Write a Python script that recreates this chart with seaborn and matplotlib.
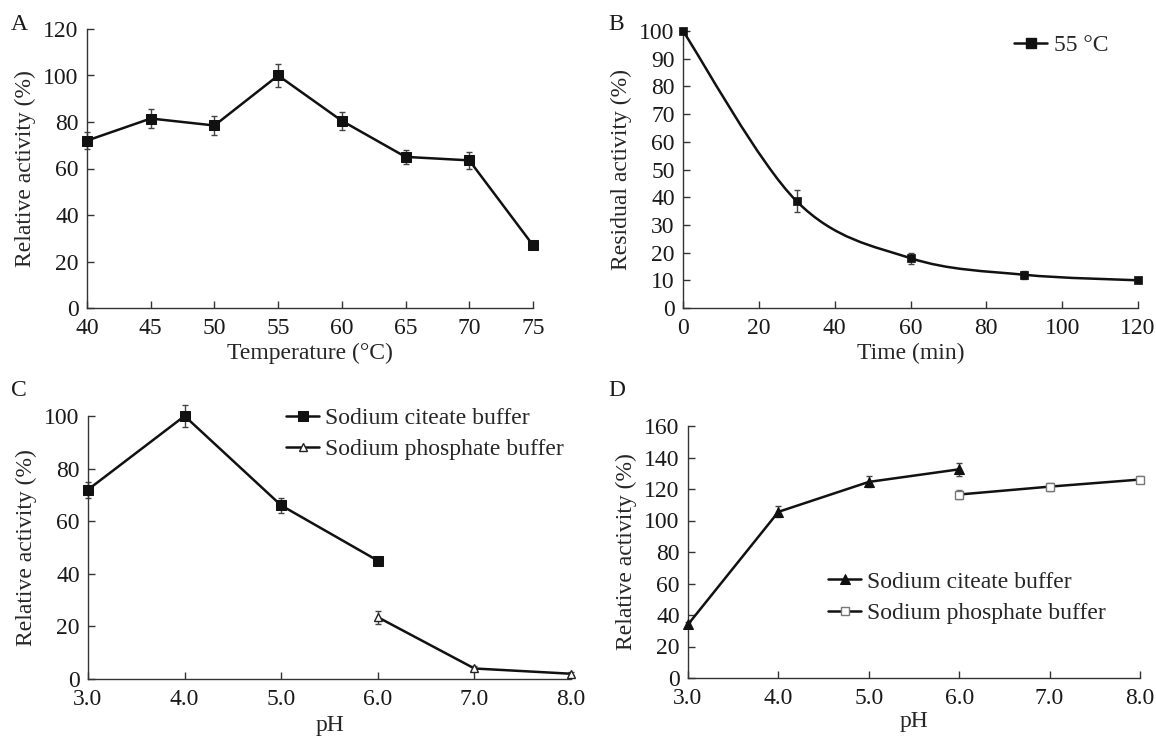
import numpy as np
import pandas as pd
import matplotlib
matplotlib.use("Agg")
import matplotlib.pyplot as plt
from matplotlib.path import Path
from matplotlib.patches import PathPatch
from matplotlib.lines import Line2D
import seaborn as sns

# ---------------- data ----------------
temp_c = [40, 45, 50, 55, 60, 65, 70, 75]
temp_act = [72, 81.5, 78.5, 100, 80.5, 65, 63.5, 27]
temp_err = [3.5, 4, 4, 5, 4, 3, 3.5, 1]

time_min = [0, 30, 60, 90, 120]
resid_act = [100, 38.5, 18, 12, 10]
resid_err = [1, 4, 2, 1.5, 0.5]

phC_cit = [3.0, 4.0, 5.0, 6.0]
actC_cit = [72, 100, 66, 45]
errC_cit = [3, 4, 2.7, 1.5]
phC_pho = [6.0, 7.0, 8.0]
actC_pho = [23.5, 4, 2]
errC_pho = [2.5, 1, 0.5]

phD_cit = [3.0, 4.0, 5.0, 6.0]
actD_cit = [34, 105.5, 124.5, 132.5]
errD_cit = [1.5, 3.5, 3.5, 4]
phD_pho = [6.0, 7.0, 8.0]
actD_pho = [116.5, 121.5, 126]
errD_pho = [3, 2.5, 2]

# ---------------- style ----------------
sns.set_style("ticks")
plt.rcParams['font.family'] = ['Liberation Serif', 'DejaVu Serif']
FS = 17
AX_COL = '#333333'

fig = plt.figure(figsize=(11.56, 7.36), dpi=100)
W, H = 1156, 736


def add_ax(l, t, r, b):
    return fig.add_axes([l / W, 1 - b / H, (r - l) / W, (b - t) / H])


def style(ax):
    for s in ['top', 'right']:
        ax.spines[s].set_visible(False)
    for s in ['left', 'bottom']:
        ax.spines[s].set_color(AX_COL)
        ax.spines[s].set_linewidth(1.0)
    ax.tick_params(direction='in', length=5, width=1.0, color=AX_COL,
                   labelsize=FS, labelcolor='#1a1a1a')
    ax.tick_params(axis='x', pad=7)
    ax.tick_params(axis='y', pad=6)


def errs(ax, x, y, e, col='#444444'):
    ax.errorbar(x, y, yerr=e, fmt='none', ecolor=col, elinewidth=1.0,
                capsize=2.5, capthick=1.0, zorder=2, clip_on=False)


LW = 1.8

# ---------- Panel A ----------
axA = add_ax(87, 29, 533, 308)
dfA = pd.DataFrame({'t': temp_c, 'a': temp_act})
errs(axA, temp_c, temp_act, temp_err)
sns.lineplot(data=dfA, x='t', y='a', ax=axA, color='#111111', lw=LW,
             marker='s', markersize=7.5, markeredgecolor='#111111',
             markerfacecolor='#111111', zorder=3, clip_on=False)
axA.set_xlim(40, 75)
axA.set_ylim(0, 120)
axA.set_xticks(temp_c)
axA.set_yticks(range(0, 121, 20))
axA.set_xlabel('Temperature (°C)', fontsize=FS, labelpad=3)
axA.set_ylabel('Relative activity (%)', fontsize=FS, labelpad=5)
style(axA)

# ---------- Panel B ----------
axB = add_ax(683, 31, 1138, 308)
# smooth connecting curve (Bezier path through the data points)
pts = list(zip(time_min, resid_act))
verts = [pts[0]]
codes = [Path.MOVETO]
n = len(pts)
for i in range(n - 1):
    p0 = np.array(pts[max(i - 1, 0)], float)
    p1 = np.array(pts[i], float)
    p2 = np.array(pts[i + 1], float)
    p3 = np.array(pts[min(i + 2, n - 1)], float)
    c1 = p1 + (p2 - p0) / 6.0
    c2 = p2 - (p3 - p1) / 6.0
    verts += [tuple(c1), tuple(c2), tuple(p2)]
    codes += [Path.CURVE4] * 3
axB.add_patch(PathPatch(Path(verts, codes), facecolor='none',
                        edgecolor='#111111', lw=LW, zorder=2.5, clip_on=False))
errs(axB, time_min, resid_act, resid_err)
dfB = pd.DataFrame({'t': time_min, 'a': resid_act})
sns.scatterplot(data=dfB, x='t', y='a', ax=axB, marker='s', s=40,
                color='#111111', edgecolor='#111111', zorder=3, clip_on=False)
axB.set_xlim(0, 120)
axB.set_ylim(0, 100)
axB.set_xticks(range(0, 121, 20))
axB.set_yticks(range(0, 101, 10))
axB.set_xlabel('Time (min)', fontsize=FS, labelpad=3)
axB.set_ylabel('Residual activity (%)', fontsize=FS, labelpad=5)
style(axB)
hB = Line2D([], [], color='#111111', lw=LW, marker='s', markersize=6.5)
axB.legend([hB], ['55 °C'], loc='center left', bbox_to_anchor=(0.728, 0.949),
           frameon=False, fontsize=FS, borderpad=0, borderaxespad=0,
           handlelength=1.4, handletextpad=0.3)

# ---------- Panel C ----------
axC = add_ax(88, 416, 571, 679)
errs(axC, phC_cit, actC_cit, errC_cit)
errs(axC, phC_pho, actC_pho, errC_pho)
sns.lineplot(x=phC_cit, y=actC_cit, ax=axC, color='#111111', lw=LW,
             marker='s', markersize=6.5, markeredgecolor='#111111',
             markerfacecolor='#111111', zorder=3, clip_on=False,
             label='Sodium citeate buffer')
sns.lineplot(x=phC_pho, y=actC_pho, ax=axC, color='#111111', lw=LW,
             marker='^', markersize=5.5, markeredgecolor='#222222',
             markerfacecolor='white', markeredgewidth=1.0, zorder=3,
             clip_on=False, label='Sodium phosphate buffer')
axC.set_xlim(3, 8)
axC.set_ylim(0, 100)
axC.set_xticks([3, 4, 5, 6, 7, 8])
axC.set_xticklabels([f'{v:.1f}' for v in [3, 4, 5, 6, 7, 8]])
axC.set_yticks(range(0, 101, 20))
axC.set_xlabel('pH', fontsize=FS, labelpad=4)
axC.set_ylabel('Relative activity (%)', fontsize=FS, labelpad=5)
style(axC)
axC.legend(loc='center left', bbox_to_anchor=(0.41, 0.932), frameon=False,
           fontsize=FS, borderpad=0, borderaxespad=0, handlelength=1.4,
           handletextpad=0.25, labelspacing=0.42)

# ---------- Panel D ----------
axD = add_ax(688, 426, 1140, 678)
errs(axD, phD_cit, actD_cit, errD_cit)
errs(axD, phD_pho, actD_pho, errD_pho, col='#666666')
sns.lineplot(x=phD_cit, y=actD_cit, ax=axD, color='#111111', lw=LW,
             marker='^', markersize=6.5, markeredgecolor='#111111',
             markerfacecolor='#111111', zorder=3, clip_on=False,
             label='Sodium citeate buffer')
sns.lineplot(x=phD_pho, y=actD_pho, ax=axD, color='#111111', lw=LW,
             marker='s', markersize=6, markeredgecolor='#777777',
             markerfacecolor='white', markeredgewidth=1.0, zorder=3,
             clip_on=False, label='Sodium phosphate buffer')
axD.set_xlim(3, 8)
axD.set_ylim(0, 160)
axD.set_xticks([3, 4, 5, 6, 7, 8])
axD.set_xticklabels([f'{v:.1f}' for v in [3, 4, 5, 6, 7, 8]])
axD.set_yticks(range(0, 161, 20))
axD.set_xlabel('pH', fontsize=FS, labelpad=2)
axD.set_ylabel('Relative activity (%)', fontsize=FS, labelpad=5)
style(axD)
axD.legend(loc='center left', bbox_to_anchor=(0.31, 0.319), frameon=False,
           fontsize=FS, borderpad=0, borderaxespad=0, handlelength=1.4,
           handletextpad=0.25, labelspacing=0.42)

# ---------- panel letters ----------
for lbl, x, y in [('A', 11, 30), ('B', 608, 30), ('C', 11, 396), ('D', 608, 396)]:
    fig.text(x / W, 1 - y / H, lbl, fontsize=FS, ha='left', va='baseline',
             color='#1a1a1a')

fig.savefig('out.png', dpi=100)
